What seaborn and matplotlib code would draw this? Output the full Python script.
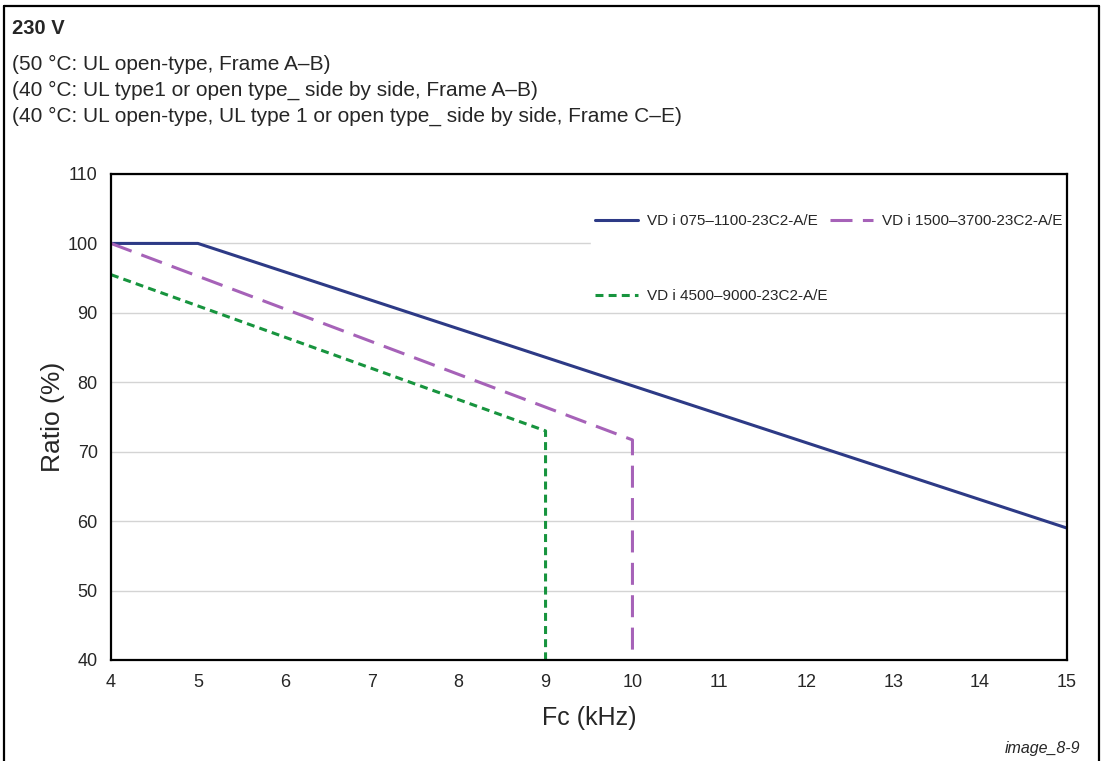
import matplotlib
matplotlib.use("Agg")
import matplotlib.pyplot as plt
from matplotlib.lines import Line2D
import pandas as pd
import seaborn as sns

# Derating curves: switching frequency (kHz) vs. output current ratio (%)
fc_small = [4, 5, 15]
ratio_small = [100, 100, 59]
fc_mid = [4, 10, 10]
ratio_mid = [100, 71.7, 40]
fc_large = [4, 9, 9]
ratio_large = [95.5, 73, 40]

series_names = ["VD i 075\u20131100-23C2-A/E",
                "VD i 1500\u20133700-23C2-A/E",
                "VD i 4500\u20139000-23C2-A/E"]
x_ticks = list(range(4, 16))
y_ticks = list(range(40, 111, 10))

title = "230 V"
notes = ["(50 \u00b0C: UL open-type, Frame A\u2013B)",
         "(40 \u00b0C: UL type1 or open type_ side by side, Frame A\u2013B)",
         "(40 \u00b0C: UL open-type, UL type 1 or open type_ side by side, Frame C\u2013E)"]

sns.set_style("white")
plt.rcParams["font.family"] = ["Liberation Sans", "DejaVu Sans"]

W, H = 1101, 761
fig = plt.figure(figsize=(W / 100, H / 100), dpi=100)
ax = fig.add_axes([111 / W, (H - 660) / H, (1067 - 111) / W, (660 - 174) / H])

styles = [
    dict(color="#2D3A86", linestyle="-"),
    dict(color="#A662B8", linestyle=(0, (7.2, 3.4))),
    dict(color="#17943E", linestyle=(0, (2.6, 1.7))),
]
frames = [
    pd.DataFrame({"Fc": fc_small, "Ratio": ratio_small}),
    pd.DataFrame({"Fc": fc_mid, "Ratio": ratio_mid}),
    pd.DataFrame({"Fc": fc_large, "Ratio": ratio_large}),
]
for df, name, st in zip(frames, series_names, styles):
    sns.lineplot(data=df, x="Fc", y="Ratio", ax=ax, sort=False, estimator=None,
                 linewidth=2.2, label=name, **st)

ax.set_xlim(4, 15)
ax.set_ylim(40, 110)
ax.set_xticks(x_ticks)
ax.set_yticks(y_ticks)
ax.yaxis.grid(True, color="#D4D4D4", linewidth=1.0)
ax.xaxis.grid(False)
ax.set_axisbelow(True)
for sp in ax.spines.values():
    sp.set_color("black")
    sp.set_linewidth(1.6)
ax.tick_params(axis="x", direction="in", length=3, width=0.8, color="#999999",
               labelsize=13, pad=10)
ax.tick_params(axis="y", length=0, labelsize=13, pad=9.5)
ax.set_xlabel("Fc (kHz)", fontsize=18, labelpad=11)
ax.set_ylabel("Ratio (%)", fontsize=19, labelpad=1.5)

# legend: two columns, row-major order
h, l = ax.get_legend_handles_labels()
order = [0, 2, 1]
leg = ax.legend([h[i] for i in order], [l[i] for i in order], ncol=2,
                loc="upper left", bbox_to_anchor=((583 - 111) / 956, 1 - 28 / 486),
                frameon=True, fancybox=False, edgecolor="white", facecolor="white",
                framealpha=1, fontsize=11, handlelength=2.8, handletextpad=0.6,
                columnspacing=0.15, labelspacing=4.0, borderpad=0.3)
leg.set_zorder(2.4)

# header texts
fig.text(12 / W, 1 - 28 / H, title, fontsize=14.5, fontweight="bold", va="center")
for i, t in enumerate(notes):
    fig.text(12 / W, 1 - (64 + 26 * i) / H, t, fontsize=15, va="center")
fig.text(1080 / W, 1 - 749 / H, "image_8-9", fontsize=11.5, style="italic",
         ha="right", va="center")

# outer frame (open at the bottom)
fx0, fx1, fy0 = 3.5 / W, 1099 / W, 1 - 5.5 / H
for xs, ys in [([fx0, fx0], [0, fy0]), ([fx0, fx1], [fy0, fy0]), ([fx1, fx1], [fy0, 0])]:
    fig.add_artist(Line2D(xs, ys, color="black", linewidth=1.6,
                          transform=fig.transFigure))

fig.savefig("out.png", dpi=100)
